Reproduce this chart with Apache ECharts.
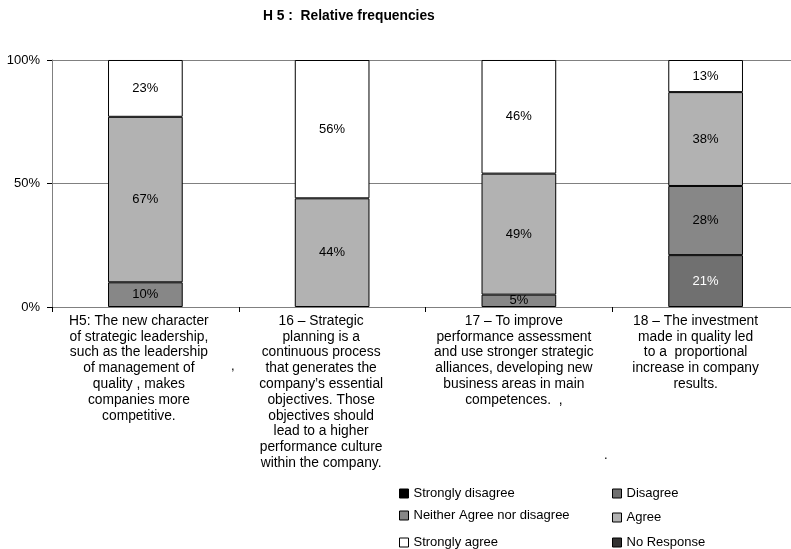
<!DOCTYPE html>
<html>
<head>
<meta charset="utf-8">
<script src="https://cdn.jsdelivr.net/npm/echarts@6/dist/echarts.min.js"></script>
<style>
  html, body { margin: 0; padding: 0; background: #fff; }
  #chart { width: 791px; height: 549px; }
</style>
</head>
<body>
<div id="chart"></div>
<script>
// Statements (x categories)
const categories = [
  'H5: The new character\nof strategic leadership,\nsuch as the leadership\nof management of\nquality , makes\ncompanies more\ncompetitive.',
  '16 \u2013 Strategic\nplanning is a\ncontinuous process\nthat generates the\ncompany\u2019s essential\nobjectives. Those\nobjectives should\nlead to a higher\nperformance culture\nwithin the company.',
  '17 \u2013 To improve\nperformance assessment\nand use stronger strategic\nalliances, developing new\nbusiness areas in main\ncompetences.  ,',
  '18 \u2013 The investment\nmade in quality led\nto a  proportional\nincrease in company\nresults.'
];

// Response shares (%) per statement
const stronglyDisagree = [0, 0, 0, 0];
const disagree         = [0, 0, 0, 21];
const neither          = [10, 0, 5, 28];
const agree            = [67, 44, 49, 38];
const stronglyAgree    = [23, 56, 46, 13];
const noResponse       = [0, 0, 0, 0];

const yTicks = [0, 50, 100];

const FONT = '"Liberation Sans", Arial, sans-serif';

// the statement texts sit slightly left of their bars (px)
const labelShiftLeft = [6.5, 11, 5, 10];

const seriesDefs = [
  { name: 'Strongly disagree', data: stronglyDisagree, color: '#000000', label: '#000' },
  { name: 'Disagree', data: disagree, color: '#707070', label: '#fff' },
  { name: 'Neither Agree nor disagree', data: neither, color: '#878787', label: '#000' },
  { name: 'Agree', data: agree, color: '#b2b2b2', label: '#000' },
  { name: 'Strongly agree', data: stronglyAgree, color: '#ffffff', label: '#000' },
  { name: 'No Response', data: noResponse, color: '#333333', label: '#fff' }
];

// zero shares are left out so that no empty outlined segment is drawn
const series = seriesDefs.map(d => ({
  name: d.name,
  type: 'bar',
  stack: 'total',
  barWidth: '40%',
  data: d.data.map(v => (v > 0 ? v : '-')),
  itemStyle: { color: d.color, borderColor: '#000', borderWidth: 1 },
  label: {
    show: true,
    position: 'inside',
    formatter: '{c}%',
    color: d.label,
    fontFamily: FONT,
    fontSize: 13
  },
  emphasis: { disabled: true }
}));

const xData = categories.map((c, i) => ({
  value: c,
  textStyle: { padding: [0, labelShiftLeft[i] * 2, 0, 0] }
}));

// Legend entries placed in a two-column block
const legendPos = [
  { name: 'Strongly disagree', left: 399, top: 487 },
  { name: 'Neither Agree nor disagree', left: 399, top: 509 },
  { name: 'Strongly agree', left: 399, top: 536 },
  { name: 'Disagree', left: 612, top: 487 },
  { name: 'Agree', left: 612, top: 511 },
  { name: 'No Response', left: 612, top: 536 }
];

const legends = legendPos.map(l => ({
  data: [l.name],
  left: l.left,
  top: l.top,
  orient: 'horizontal',
  icon: 'rect',
  itemWidth: 9,
  itemHeight: 9,
  itemGap: 0,
  itemTextGap: l.name === 'Agree' ? 4 : 6,
  padding: 0,
  selectedMode: false,
  itemStyle: { borderColor: '#000', borderWidth: 1 },
  textStyle: { fontFamily: FONT, fontSize: 13, color: '#000' }
}));

const chart = echarts.init(document.getElementById('chart'), null, { renderer: 'canvas' });
chart.setOption({
  animation: false,
  backgroundColor: '#fff',
  title: {
    text: 'H 5 :  Relative frequencies',
    left: 263,
    top: 9,
    padding: 0,
    textStyle: { fontFamily: FONT, fontSize: 13.8, fontWeight: 'bold', color: '#000' }
  },
  legend: legends,
  // plot area runs a little past the right edge of the page
  grid: { left: 52, right: -8, top: 60, bottom: 242, containLabel: false, outerBoundsMode: 'none' },
  xAxis: {
    type: 'category',
    data: xData,
    axisLine: { lineStyle: { color: '#808080', width: 1 } },
    axisTick: { show: true, length: 5, lineStyle: { color: '#000' } },
    axisLabel: {
      interval: 0,
      margin: 6,
      color: '#000',
      fontFamily: FONT,
      fontSize: 13.8,
      lineHeight: 15.8,
      align: 'center'
    }
  },
  yAxis: {
    type: 'value',
    min: yTicks[0],
    max: yTicks[yTicks.length - 1],
    interval: yTicks[1] - yTicks[0],
    axisLine: { show: true, lineStyle: { color: '#808080', width: 1 } },
    axisTick: { show: true, length: 5, lineStyle: { color: '#000' } },
    splitLine: { show: true, lineStyle: { color: '#808080', width: 1 } },
    axisLabel: {
      margin: 12,
      color: '#000',
      fontFamily: FONT,
      fontSize: 13,
      formatter: '{value}%'
    }
  },
  graphic: [
    { type: 'text', left: 231, top: 360, style: { text: ',', fontFamily: FONT, fontSize: 13, fill: '#000' } },
    { type: 'text', left: 604, top: 449, style: { text: '.', fontFamily: FONT, fontSize: 13, fill: '#000' } }
  ],
  series: series
});
</script>
</body>
</html>
